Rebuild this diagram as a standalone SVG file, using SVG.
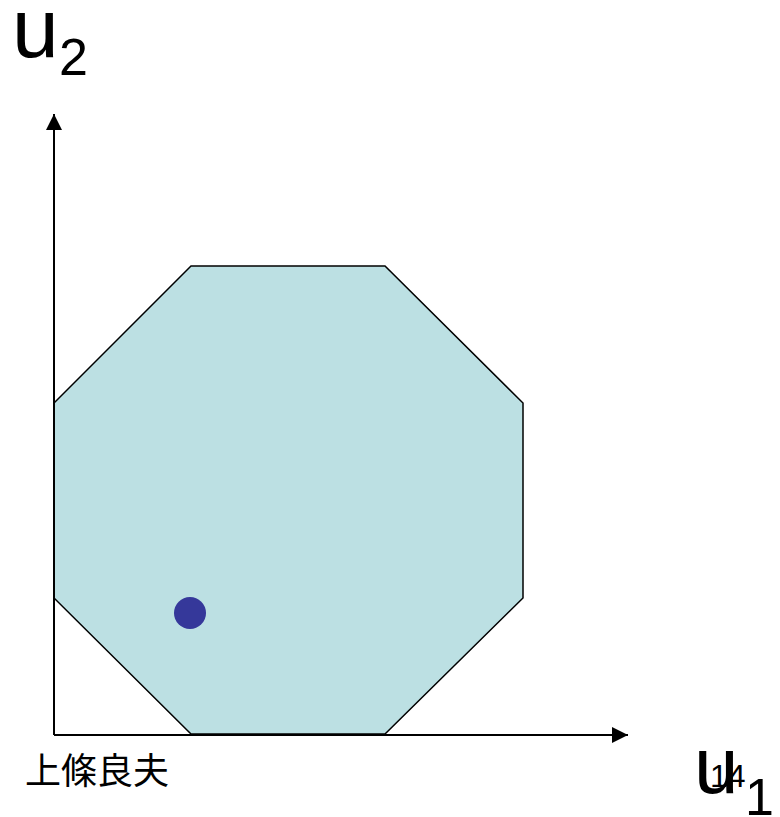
<svg xmlns="http://www.w3.org/2000/svg" width="780" height="817" viewBox="0 0 780 817">
<style>
.lbl{font-family:"Liberation Sans",Arial,sans-serif;fill:#000}
.cjk{font-family:"Liberation Sans","Noto Sans CJK JP",sans-serif;fill:#000}
.axis{stroke:#000;stroke-width:2;fill:none}
</style>
<defs>
<marker id="arr" viewBox="0 0 16 16" refX="16" refY="8" markerWidth="16" markerHeight="16" markerUnits="userSpaceOnUse" orient="auto">
<path d="M0,0 L16,8 L0,16 Z" fill="#000"/>
</marker>
</defs>
<rect width="780" height="817" fill="#fff"/>
<g id="region">
<polygon points="191,266 385,266 523,403 523,598 385,734 191,734 54,598 54,403" fill="#bce0e3" stroke="#000" stroke-width="1.5"/>
</g>
<g id="connectors">
<line class="axis" x1="54" y1="735" x2="54" y2="114" marker-end="url(#arr)"/>
<line class="axis" x1="54" y1="735" x2="628" y2="735" marker-end="url(#arr)"/>
</g>
<g id="point">
<circle cx="190" cy="613" r="16" fill="#35389a"/>
</g>
<g id="label-u2">
<text class="lbl" x="12" y="57" font-size="84">u</text>
<text class="lbl" x="59" y="75" font-size="52">2</text>
</g>
<g id="label-u1">
<text class="lbl" x="694" y="793" font-size="80">u</text>
<text class="lbl" x="745" y="815" font-size="52">1</text>
</g>
<g id="page-number">
<text class="lbl" x="710" y="787" font-size="32">14</text>
</g>
<g id="author">
<text class="cjk" x="25" y="784" font-size="36">上條良夫</text>
</g>
</svg>
